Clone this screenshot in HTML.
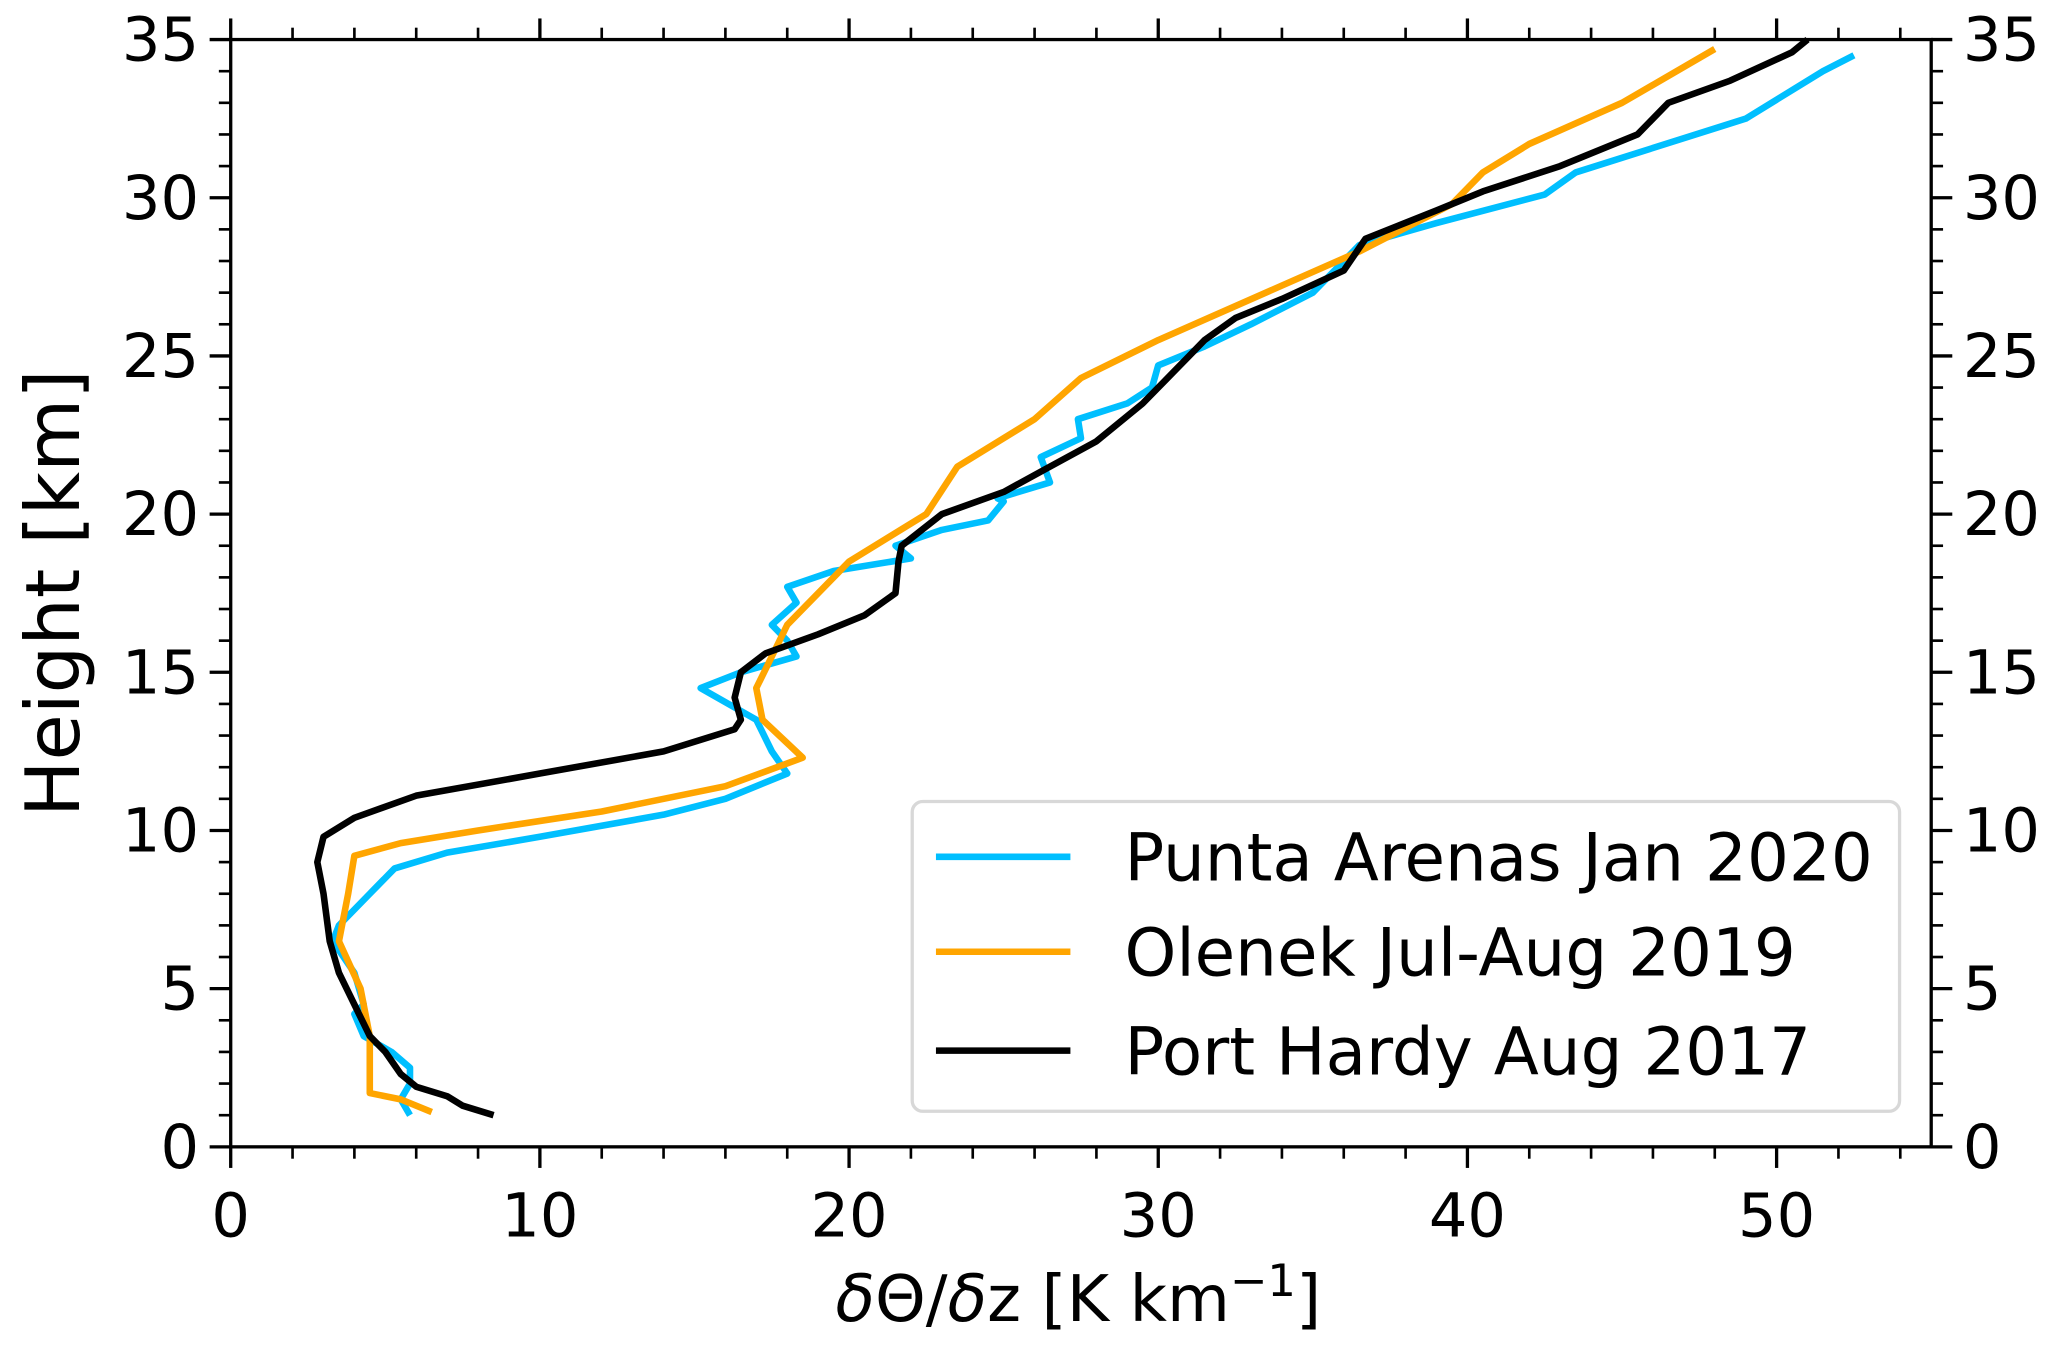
<!DOCTYPE html>
<html><head><meta charset="utf-8"><style>
html,body{margin:0;padding:0;background:#fff;}
svg{display:block;}
text{font-family:"DejaVu Sans","Liberation Sans",sans-serif;fill:#000;}
</style></head><body>
<svg id="chart" width="2067" height="1348" viewBox="0 0 1568 1022.6" xmlns="http://www.w3.org/2000/svg">
<g id="axes"></g>
<g id="series"></g>
<rect x="175" y="30" width="1290" height="840" fill="none" stroke="#000" stroke-width="2.5"/>
<text transform="translate(60,450) rotate(-90)" text-anchor="middle" font-size="57">Height [km]</text>
<text x="818" y="1002" text-anchor="middle" font-size="49"><tspan font-style="italic">δ</tspan>Θ/<tspan font-style="italic">δ</tspan>z [K km<tspan dy="-19" font-size="34">−1</tspan><tspan dy="19">]</tspan></text>
<g>
<rect x="692" y="608" width="749" height="235" rx="8" fill="#fff" fill-opacity="0.85" stroke="#d8d8d8" stroke-width="2.5"/>
<g><line x1="710" y1="650" x2="812" y2="650" stroke="#00bfff" stroke-width="5"/><text x="853" y="668" font-size="50">Punta Arenas Jan 2020</text></g>
<g><line x1="710" y1="722" x2="812" y2="722" stroke="#ffa500" stroke-width="5"/><text x="853" y="740" font-size="50">Olenek Jul-Aug 2019</text></g>
<g><line x1="710" y1="797" x2="812" y2="797" stroke="#000" stroke-width="5"/><text x="853" y="815" font-size="50">Port Hardy Aug 2017</text></g>
</g>
</svg>
<script>
const xTicks=[0,10,20,30,40,50];
const yTicks=[0,5,10,15,20,25,30,35];
const puntaX=[5.8,5.5,5.8,5.8,5.2,4.3,4.0,4.3,4.0,3.3,3.5,4.5,5.3,7,10,14,16,18,17.5,17,15.2,16.5,18.3,18,17.5,18.3,18,19.5,22,21.5,23,24.5,25,24.8,26.5,26.2,27.5,27.4,29,29.8,30,31.5,33,35,36,36.5,39,42.5,43.5,49,51.5,52.5];
const puntaH=[1.0,1.5,2.0,2.5,3,3.5,4.2,4.5,5.5,6.5,7,8,8.8,9.3,9.8,10.5,11,11.8,12.5,13.5,14.5,15,15.5,16,16.5,17.2,17.7,18.2,18.6,19,19.5,19.8,20.4,20.5,21,21.8,22.4,23,23.5,24,24.7,25.3,26,27,28,28.5,29.2,30.1,30.8,32.5,34,34.5];
const olenekX=[6.5,5.5,4.5,4.5,4.5,4.2,3.5,3.8,4,5.5,8,12,16,18.5,17.2,17,17.5,18,20,22.5,23.5,26,27.5,30,36.5,39.5,40.5,42,45,48];
const olenekH=[1.1,1.5,1.7,2.5,3.5,5,6.5,8,9.2,9.6,10,10.6,11.4,12.3,13.5,14.5,15.5,16.5,18.5,20,21.5,23,24.3,25.5,28.3,29.8,30.8,31.7,33,34.7];
const hardyX=[8.5,7.5,7,6,5.5,5,4.5,4,3.5,3.2,3,2.8,3,4,6,10,14,16.3,16.5,16.3,16.5,17.3,19,20.5,21.5,21.6,21.7,23,25,26.5,28,29.5,30.5,31,31.5,32.5,34,36,36.7,39,40.5,43,45.5,46.5,48.5,50.5,51];
const hardyH=[1.0,1.3,1.6,1.9,2.3,3,3.5,4.5,5.5,6.5,8,9,9.8,10.4,11.1,11.8,12.5,13.2,13.5,14.2,15,15.6,16.2,16.8,17.5,18.5,19,20,20.7,21.5,22.3,23.5,24.5,25,25.5,26.2,26.8,27.7,28.7,29.6,30.2,31,32,33,33.7,34.6,35];
const X0=175,X1=1465,Y0=870,Y1=30;
function sx(v){return X0+(v/55)*(X1-X0);}
function sy(v){return Y0-(v/35)*(Y0-Y1);}
const NS='http://www.w3.org/2000/svg';
const axes=document.getElementById('axes');
function mk(tag,attrs,parent){const e=document.createElementNS(NS,tag);for(const k in attrs)e.setAttribute(k,attrs[k]);parent.appendChild(e);return e;}
for(let v=0;v<=55;v+=2){if(v%10===0)continue;
 const x=sx(v);
 const t=mk('line',{x1:x,x2:x,y1:Y0,y2:Y0+9,stroke:'#000','stroke-width':2},axes);
 
 const t2=mk('line',{x1:x,x2:x,y1:Y1,y2:Y1-9,stroke:'#000','stroke-width':2},axes);
 }
xTicks.forEach(v=>{const x=sx(v);
 const t=mk('line',{x1:x,x2:x,y1:Y0,y2:Y0+16,stroke:'#000','stroke-width':2.5},axes);
 
 const t2=mk('line',{x1:x,x2:x,y1:Y1,y2:Y1-16,stroke:'#000','stroke-width':2.5},axes);
 
 const l=mk('text',{x:x,y:Y0+68,'text-anchor':'middle','font-size':46},axes);l.textContent=v;
 });
for(let v=0;v<=35;v+=1){if(v%5===0)continue;const y=sy(v);
 const t=mk('line',{x1:X0,x2:X0-9,y1:y,y2:y,stroke:'#000','stroke-width':2},axes);
 
 const t2=mk('line',{x1:X1,x2:X1+9,y1:y,y2:y,stroke:'#000','stroke-width':2},axes);
 }
yTicks.forEach(v=>{const y=sy(v);
 const t=mk('line',{x1:X0,x2:X0-16,y1:y,y2:y,stroke:'#000','stroke-width':2.5},axes);
 
 const t2=mk('line',{x1:X1,x2:X1+16,y1:y,y2:y,stroke:'#000','stroke-width':2.5},axes);
 
 const l=mk('text',{x:X0-24,y:y+16,'text-anchor':'end','font-size':46},axes);l.textContent=v;
 
 const r=mk('text',{x:X1+24,y:y+16,'text-anchor':'start','font-size':46},axes);r.textContent=v;
 });
const series=document.getElementById('series');
function line(xs,hs,color,name){
 const d=xs.map((v,i)=>(i?'L':'M')+sx(v).toFixed(1)+','+sy(hs[i]).toFixed(1)).join(' ');
 const p=mk('path',{d:d,fill:'none',stroke:color,'stroke-width':5,'stroke-linejoin':'round'},series);
 
 }
line(puntaX,puntaH,'#00bfff','punta-arenas-line');
line(olenekX,olenekH,'#ffa500','olenek-line');
line(hardyX,hardyH,'#000000','port-hardy-line');
</script>
</body></html>
